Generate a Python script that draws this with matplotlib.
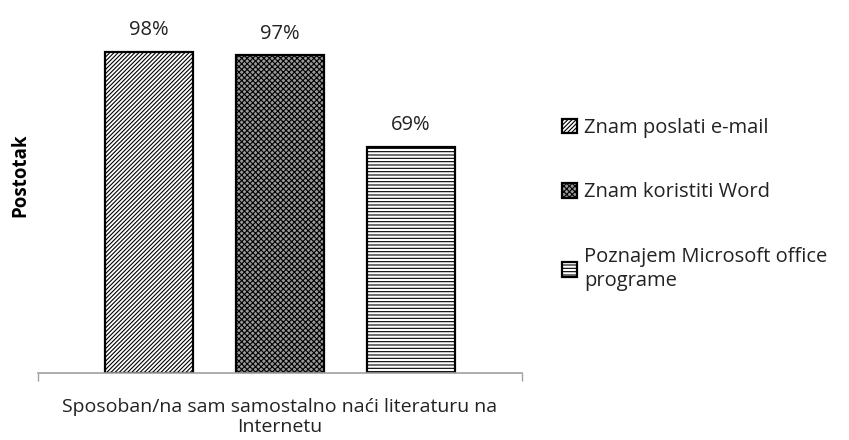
import matplotlib
matplotlib.use("Agg")
import matplotlib.pyplot as plt

plt.rcParams['font.family'] = ['Open Sans', 'DejaVu Sans']
plt.rcParams['hatch.linewidth'] = 0.8

category = "Sposoban/na sam samostalno naći literaturu na\nInternetu"
series = ["Znam poslati e-mail", "Znam koristiti Word", "Poznajem Microsoft office\nprograme"]
values = [98, 97, 69]
hatches = ["////////", "xxxxxx", "-----"]
faces = ["white", "#9a9a9a", "white"]

fig = plt.figure(figsize=(8.49, 4.40), dpi=100)
ax = fig.add_axes([38/849, 67/440, 484/849, (373-45.4)/440])

width = 0.182
offsets = [-0.271, 0.0, 0.271]
for off, v, h, fc, lab in zip(offsets, values, hatches, faces, series):
    ax.bar(off, v, width=width, facecolor=fc, edgecolor="black",
           hatch=h, linewidth=1.6, label=lab)
    ax.text(off, v + 3.5, f"{v}%", ha="center", va="bottom", fontsize=14.5, color="#222222")

ax.set_xlim(-0.5, 0.5)
ax.set_ylim(0, 100)
ax.set_xticks([0])
ax.set_xticklabels([category], fontsize=14, color="#222222", linespacing=1.12)
ax.tick_params(axis="x", which="major", length=0, pad=18)
ax.set_xticks([-0.5, 0.5], minor=True)
ax.tick_params(axis="x", which="minor", length=6, color="#a0a0a0", width=1)
ax.set_yticks([])
for s in ["top", "right", "left"]:
    ax.spines[s].set_visible(False)
ax.spines["bottom"].set_color("#a0a0a0")
ax.spines["bottom"].set_linewidth(1.2)
ax.set_ylabel("Postotak", fontsize=13.5, fontweight="bold", va="center")
ax.yaxis.set_label_coords(-0.037, 0.604)

leg = fig.legend(loc="upper left", bbox_to_anchor=(554/849, 1 - 110/440),
                 frameon=False, fontsize=14.5, labelspacing=2.2,
                 handlelength=0.75, handleheight=0.75, handletextpad=0.35,
                 borderaxespad=0)
for t in leg.get_texts():
    t.set_color("#222222")
    t.set_linespacing(1.32)

fig.savefig("out.png", dpi=100)
